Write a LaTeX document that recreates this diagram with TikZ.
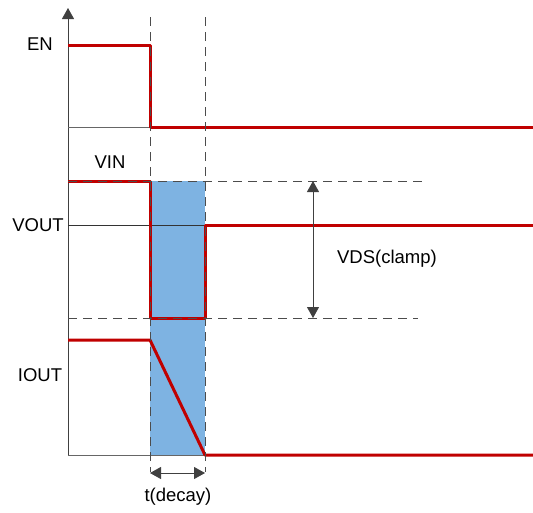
\documentclass[tikz,border=0pt]{standalone}
\usepackage{fontspec}
\setmainfont{Liberation Sans}
\usetikzlibrary{arrows.meta}
\definecolor{sigred}{RGB}{192,0,0}
\definecolor{decayblue}{RGB}{126,179,226}
\begin{document}
\begin{tikzpicture}[x=1pt, y=-1pt, font=\fontsize{18.5}{22}\selectfont, line join=round,
	>={Triangle[length=11pt, width=12pt]},
	signal/.style={draw=sigred, line width=3pt},
	guide/.style={draw=black!70, dash pattern=on 9pt off 6pt, line width=0.9pt},
	base/.style={draw=black!60, line width=0.8pt},
	dim/.style={draw=black!75, line width=0.9pt, <->}]
	\useasboundingbox (0,0) rectangle (533,512);
	% Vùng suy giảm
	\fill[decayblue] (150,181) rectangle (205,455);
	% Trục tung
	\draw[base, draw=black!75, ->] (68,455) -- (68,8);
	% Các đường nền
	\draw[base] (68,127) -- (533,127);
	\draw[base, draw=black!80] (68,225) -- (533,225);
	\draw[base] (68,455) -- (533,455);
	% Tín hiệu EN
	\draw[signal] (68,45) -- (150,45) -- (150,127) -- (533,127);
	% Tín hiệu VIN và VOUT
	\draw[signal] (68,181) -- (150,181) -- (150,318) -- (205,318) -- (205,225) -- (533,225);
	% Tín hiệu IOUT
	\draw[signal] (68,340) -- (150,340) -- (205,455) -- (533,455);
	% Các đường gióng nét đứt
	\draw[guide] (150,17) -- (150,472);
	\draw[guide] (205,17) -- (205,472);
	\draw[guide] (68,181) -- (425,181);
	\draw[guide] (68,318) -- (418,318);
	% Các mũi tên kích thước
	\coordinate (Da) at (150,473);
	\coordinate (Db) at (205,473);
	\draw[dim] (Da) -- (Db);
	\coordinate (Va) at (313,181);
	\coordinate (Vb) at (313,318);
	\draw[dim] (Va) -- (Vb);
	% Nhãn
	\node (en) at (40,44) {EN};
	\node (vin) at (110,162) {VIN};
	\node (vout) at (38,225) {VOUT};
	\node (iout) at (40,375) {IOUT};
	\node (vds) at (387,259) {VDS(clamp)};
	\node (td) at (178,497) {t(decay)};
\end{tikzpicture}
\end{document}
